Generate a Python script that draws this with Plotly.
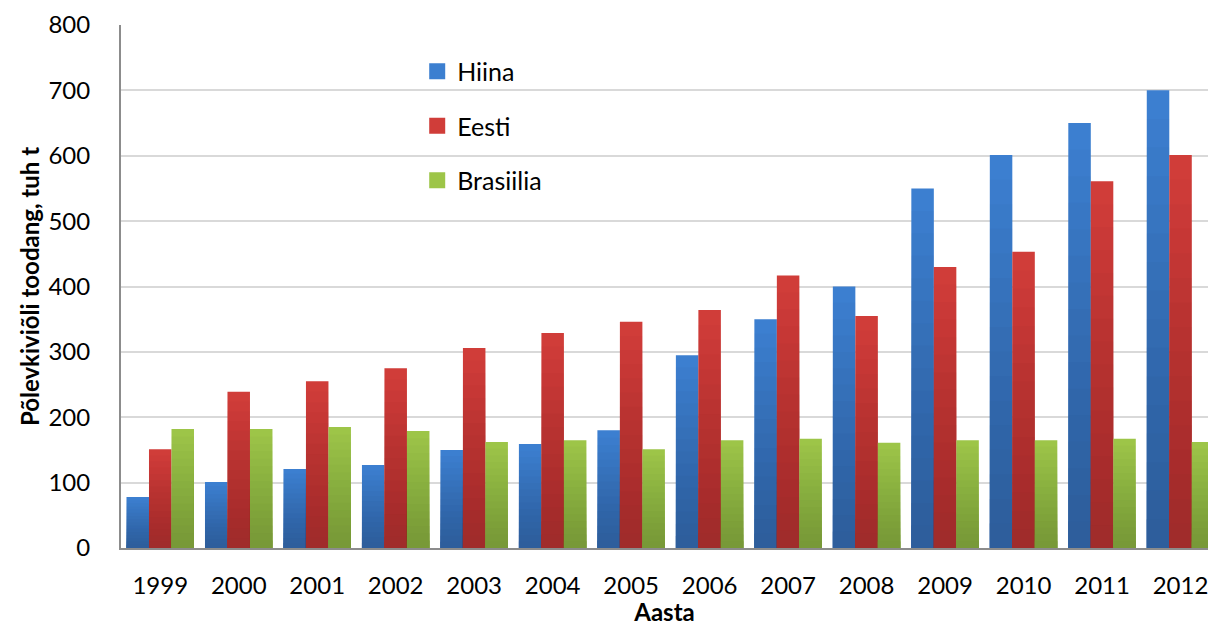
import plotly.graph_objects as go

# Oil-shale oil production by country, thousand tonnes
years = ["1999", "2000", "2001", "2002", "2003", "2004", "2005",
         "2006", "2007", "2008", "2009", "2010", "2011", "2012"]
hiina = [78, 101, 121, 127, 150, 159, 180, 295, 350, 400, 550, 601, 650, 700]
eesti = [151, 239, 255, 275, 306, 329, 346, 364, 417, 355, 430, 453, 561, 601]
brasiilia = [182, 182, 185, 179, 162, 165, 151, 165, 167, 161, 165, 165, 167, 162]

series = [
    ("Hiina", hiina, "#3c7fd0", (46, 94, 156)),
    ("Eesti", eesti, "#d03d39", (160, 44, 43)),
    ("Brasiilia", brasiilia, "#9dc548", (120, 153, 56)),
]

FONT = "Lato"
STEPS = 16  # shading layers per bar (light top, dark bottom)

fig = go.Figure()

for name, vals, top, dark in series:
    # base bar in the light top colour
    fig.add_trace(go.Bar(
        x=years, y=vals, name=name, offsetgroup=name, showlegend=False,
        marker=dict(color=top, line=dict(width=0)), hoverinfo="skip",
    ))
    # stacked translucent layers give a linear vertical gradient to the dark colour
    for k in range(1, STEPS):
        frac = (STEPS - k) / STEPS
        alpha = 1.0 / (STEPS - k)
        fig.add_trace(go.Bar(
            x=years, y=[v * frac for v in vals], offsetgroup=name,
            showlegend=False, hoverinfo="skip",
            marker=dict(color=f"rgba({dark[0]},{dark[1]},{dark[2]},{alpha:.4f})",
                        line=dict(width=0)),
        ))

# legend entries with larger square swatches
for i, (name, vals, top, dark) in enumerate(series):
    fig.add_trace(go.Scatter(
        x=[None], y=[None], mode="markers", name=name, legendgroup=name,
        marker=dict(symbol="square", size=16, color=top),
    ))

fig.update_layout(
    width=1208, height=626,
    margin=dict(l=121, r=0, t=25, b=78),
    paper_bgcolor="white", plot_bgcolor="white",
    barmode="group", bargap=0.14, bargroupgap=0,
    font=dict(family=FONT, size=24, color="#000000"),
    showlegend=True,
    legend=dict(
        x=0.2725, y=0.955, xanchor="left", yanchor="top",
        bgcolor="rgba(0,0,0,0)", tracegroupgap=19,
        font=dict(family=FONT, size=25, color="#000000"),
        itemclick=False,
    ),
    xaxis=dict(
        type="category", range=[-0.5, 13.35],
        showgrid=False, showline=True, linecolor="#8c8c8c", linewidth=2,
        ticks="", ticklabelstandoff=15,
        tickfont=dict(family=FONT, size=24),
        title=dict(text="<b>Aasta</b>", font=dict(family=FONT, size=24), standoff=4),
        zeroline=False,
    ),
    yaxis=dict(
        range=[0, 800], dtick=100, tick0=0,
        showgrid=True, gridcolor="#d9d9d9", gridwidth=2,
        showline=True, linecolor="#8c8c8c", linewidth=2,
        ticks="", ticklabelstandoff=24,
        tickfont=dict(family=FONT, size=24),
        title=dict(text="<b>Põlevkiviõli toodang, tuh t</b>",
                   font=dict(family=FONT, size=24), standoff=2),
        zeroline=False,
    ),
)

fig.write_html("out.html")
